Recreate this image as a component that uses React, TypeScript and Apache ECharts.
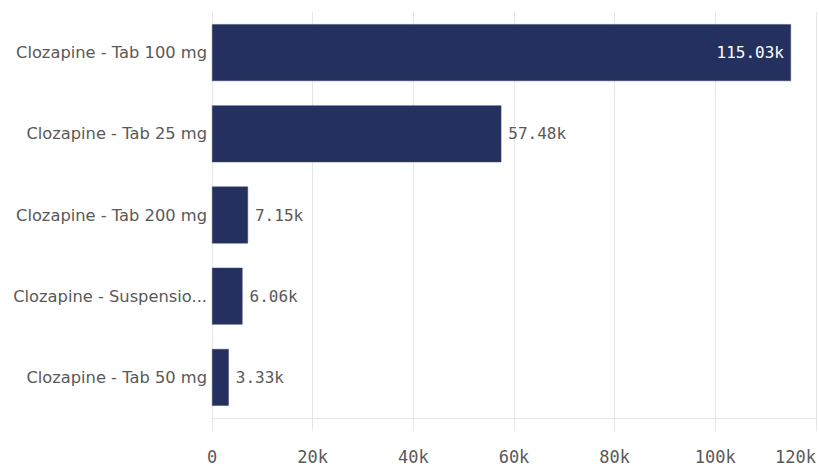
import React, { useEffect, useRef } from "react";
import * as echarts from "echarts";

const categories = [
  "Clozapine - Tab 100 mg",
  "Clozapine - Tab 25 mg",
  "Clozapine - Tab 200 mg",
  "Clozapine - Suspension 50 mg/ml",
  "Clozapine - Tab 50 mg",
];
const values = [115030, 57480, 7150, 6060, 3330];
const tickStep = 20000;
const axisMax = 120000;

const BAR = "#24305e";
const GRID = "#e6e6e6";
const TEXT = "#595959";

export default function App() {
  const ref = useRef<HTMLDivElement>(null);
  useEffect(() => {
    if (!ref.current) return;
    const chart = echarts.init(ref.current, null, { renderer: "svg" });
    const fmt = (v: number) => (v / 1000).toFixed(2) + "k";
    chart.setOption({
      animation: false,
      grid: { left: 212, right: 1, top: 12, bottom: 53, containLabel: false },
      xAxis: {
        type: "value",
        min: 0,
        max: axisMax,
        interval: tickStep,
        axisLine: { show: true, lineStyle: { color: GRID, width: 1 } },
        axisTick: { show: true, length: 13, lineStyle: { color: GRID } },
        splitLine: { show: true, lineStyle: { color: GRID } },
        axisLabel: {
          color: TEXT,
          fontSize: 17,
          fontFamily: "DejaVu Sans Mono",
          margin: 30,
          alignMaxLabel: "right",
          formatter: (v: number) => (v === 0 ? "0" : v / 1000 + "k"),
        },
      },
      yAxis: {
        type: "category",
        data: categories,
        inverse: true,
        axisLine: { show: false },
        axisTick: { show: false },
        axisLabel: {
          color: TEXT,
          fontSize: 16.3,
          fontFamily: "DejaVu Sans",
          margin: 5,
          width: 198,
          overflow: "truncate",
          ellipsis: "...",
        },
      },
      series: [
        {
          type: "bar",
          barWidth: "70%",
          itemStyle: { color: BAR, borderColor: "#3b4670", borderWidth: 0.5 },
          data: values.map((v) => ({
            value: v,
            label:
              v > axisMax * 0.5
                ? { position: "insideRight", color: "#ffffff", distance: 7 }
                : undefined,
          })),
          label: {
            show: true,
            position: "right",
            distance: 7,
            color: TEXT,
            fontSize: 16,
            fontFamily: "DejaVu Sans Mono",
            formatter: (p: any) => fmt(p.value),
          },
        },
      ],
    });
    return () => chart.dispose();
  }, []);
  return (
    <div
      ref={ref}
      style={{ position: "fixed", left: 0, top: 0, width: 819, height: 471, background: "#fff" }}
    />
  );
}
